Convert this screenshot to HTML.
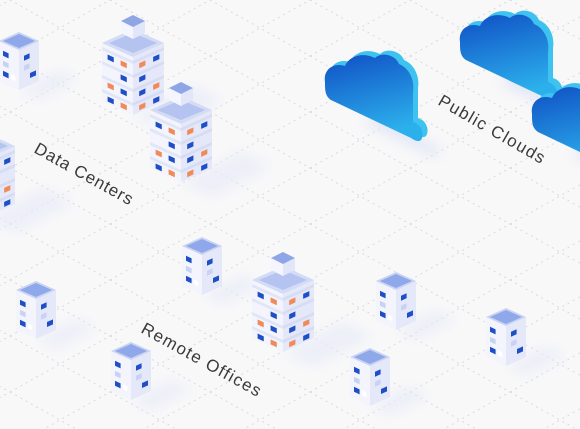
<!DOCTYPE html>
<html><head><meta charset="utf-8"><style>html,body{margin:0;padding:0;background:#f8f8f9;}svg{display:block}</style></head>
<body>
<svg width="580" height="429" viewBox="0 0 580 429" xmlns="http://www.w3.org/2000/svg">
<defs>
<pattern id="grid" width="100" height="56" patternUnits="userSpaceOnUse" x="10" y="0">
<g stroke="#d9d9de" stroke-width="1" stroke-dasharray="2 4" fill="none">
<line x1="0" y1="0" x2="100" y2="56"/><line x1="0" y1="56" x2="100" y2="0"/>
</g></pattern>
<linearGradient id="cg" x1="0" y1="0" x2="0.3" y2="1"><stop offset="0" stop-color="#0f4fc4"/><stop offset="1" stop-color="#2cb0ec"/></linearGradient>
<filter id="blur" x="-50%" y="-50%" width="200%" height="200%"><feGaussianBlur stdDeviation="6"/></filter>
<g id="tall">
<path d="M0,100 L60,70 L90,85 L30,115 Z" fill="#e8ebf8" filter="url(#blur)" opacity="0.7"/>
<path d="M-31,28 L0,42 L0,100 L-31,86 Z" fill="#f3f4fc"/>
<path d="M0,42 L31,28 L31,86 L0,100 Z" fill="#e4e8f8"/>
<g transform="matrix(31,14,0,1,-31,28)" fill="#e0e5f7"><rect x="0" y="4" width="1" height="3"/><rect x="0" y="18" width="1" height="3"/><rect x="0" y="32" width="1" height="3"/><rect x="0" y="46" width="1" height="3"/></g>
<g transform="matrix(31,-14,0,1,0,42)" fill="#d6dcf3"><rect x="0" y="4" width="1" height="3"/><rect x="0" y="18" width="1" height="3"/><rect x="0" y="32" width="1" height="3"/><rect x="0" y="46" width="1" height="3"/></g>
<g transform="matrix(31,14,0,1,-31,28)"><rect x="0.18" y="9" width="0.2" height="5" fill="#1f4fc8"/><rect x="0.6" y="9" width="0.2" height="5" fill="#f08a5a"/><rect x="0.6" y="23" width="0.2" height="5" fill="#1f4fc8"/><rect x="0.18" y="37" width="0.2" height="5" fill="#f08a5a"/><rect x="0.6" y="37" width="0.2" height="5" fill="#1f4fc8"/><rect x="0.18" y="51" width="0.2" height="5" fill="#1f4fc8"/><rect x="0.6" y="51" width="0.2" height="5" fill="#f08a5a"/></g>
<g transform="matrix(31,-14,0,1,0,42)"><rect x="0.2" y="9" width="0.2" height="5" fill="#f08a5a"/><rect x="0.65" y="9" width="0.2" height="5" fill="#1f4fc8"/><rect x="0.2" y="23" width="0.2" height="5" fill="#1f4fc8"/><rect x="0.2" y="37" width="0.2" height="5" fill="#1f4fc8"/><rect x="0.65" y="37" width="0.2" height="5" fill="#f08a5a"/><rect x="0.2" y="51" width="0.2" height="5" fill="#f08a5a"/><rect x="0.65" y="51" width="0.2" height="5" fill="#1f4fc8"/></g>
<path d="M0,14 L31,28 L0,42 L-31,28 Z" fill="#d3dbf5"/>
<path d="M0,18 L24,28 L0,38 L-24,28 Z" fill="#b4c3f0"/>
<path d="M-12,6 L0,12 L0,24 L-12,18 Z" fill="#f5f6fd"/>
<path d="M0,12 L12,6 L12,18 L0,24 Z" fill="#e1e6f8"/>
<path d="M0,0 L12,6 L0,12 L-12,6 Z" fill="#8fa6e6"/>
</g>
<g id="small">
<path d="M0,58 L40,38 L60,48 L20,68 Z" fill="#e8ebf8" filter="url(#blur)" opacity="0.7"/>
<path d="M-20,9 L0,18 L0,58 L-20,49 Z" fill="#f3f4fc"/>
<path d="M0,18 L20,9 L20,49 L0,58 Z" fill="#e4e8f8"/>
<g transform="matrix(20,9,0,1,-20,9)"><rect x="0.2" y="8" width="0.28" height="5" fill="#1f4fc8"/><rect x="0.2" y="18" width="0.28" height="5" fill="#c8d2f2"/><rect x="0.2" y="28" width="0.28" height="5" fill="#1f4fc8"/><rect x="0.6" y="28" width="0.22" height="5" fill="#ffffff"/></g>
<g transform="matrix(20,-9,0,1,0,18)"><rect x="0.25" y="8" width="0.28" height="5" fill="#1f4fc8"/><rect x="0.25" y="18" width="0.28" height="5" fill="#c8d2f2"/><rect x="0.55" y="28" width="0.3" height="5" fill="#1f4fc8"/></g>
<path d="M0,0 L20,9 L0,18 L-20,9 Z" fill="#c9d3f3"/>
<path d="M0,2 L16,9 L0,16 L-16,9 Z" fill="#8fa8ea"/>
</g>
<g id="cloud">
<path d="M40,70 L110,105 L120,100 L60,60 Z" fill="#e3e7f7" filter="url(#blur)"/>
<path transform="translate(5,-4)" d="M2,30 C0,18 10,10 22,14 C26,4 40,0 52,6 C58,0 72,2 76,12 C86,16 92,28 90,40 L90,70 C98,72 102,82 98,88 C96,90 92,89 88,86 L8,48 C2,44 2,38 2,30 Z" fill="#3ec2f0"/>
<path d="M2,30 C0,18 10,10 22,14 C26,4 40,0 52,6 C58,0 72,2 76,12 C86,16 92,28 90,40 L90,70 C98,72 102,82 98,88 C96,90 92,89 88,86 L8,48 C2,44 2,38 2,30 Z" fill="url(#cg)"/>
</g>
</defs>
<rect width="580" height="429" fill="#f8f8f9"/>
<rect width="580" height="429" fill="url(#grid)"/>

<use href="#cloud" x="323" y="52"/>
<use href="#cloud" x="458" y="12"/>
<use href="#cloud" x="530" y="84"/>

<use href="#small" x="19" y="32"/>
<use href="#tall" x="-16" y="118"/>
<use href="#tall" x="133" y="15"/>
<use href="#tall" x="181" y="82"/>
<use href="#small" x="202" y="237"/>
<use href="#small" x="36" y="281"/>
<use href="#tall" x="283" y="252"/>
<use href="#small" x="396" y="272"/>
<use href="#small" x="506" y="308"/>
<use href="#small" x="131" y="342"/>
<use href="#small" x="370" y="348"/>

<g font-family="Liberation Sans, sans-serif" font-size="17" fill="#3a3a3a">
<text x="33" y="152" transform="rotate(29 33 152)" textLength="110" lengthAdjust="spacing">Data Centers</text>
<text x="437" y="104" transform="rotate(30 437 104)" textLength="120" lengthAdjust="spacing">Public Clouds</text>
<text x="140" y="332" transform="rotate(29 140 332)" textLength="134" lengthAdjust="spacing">Remote Offices</text>
</g>
</svg>
</body></html>
